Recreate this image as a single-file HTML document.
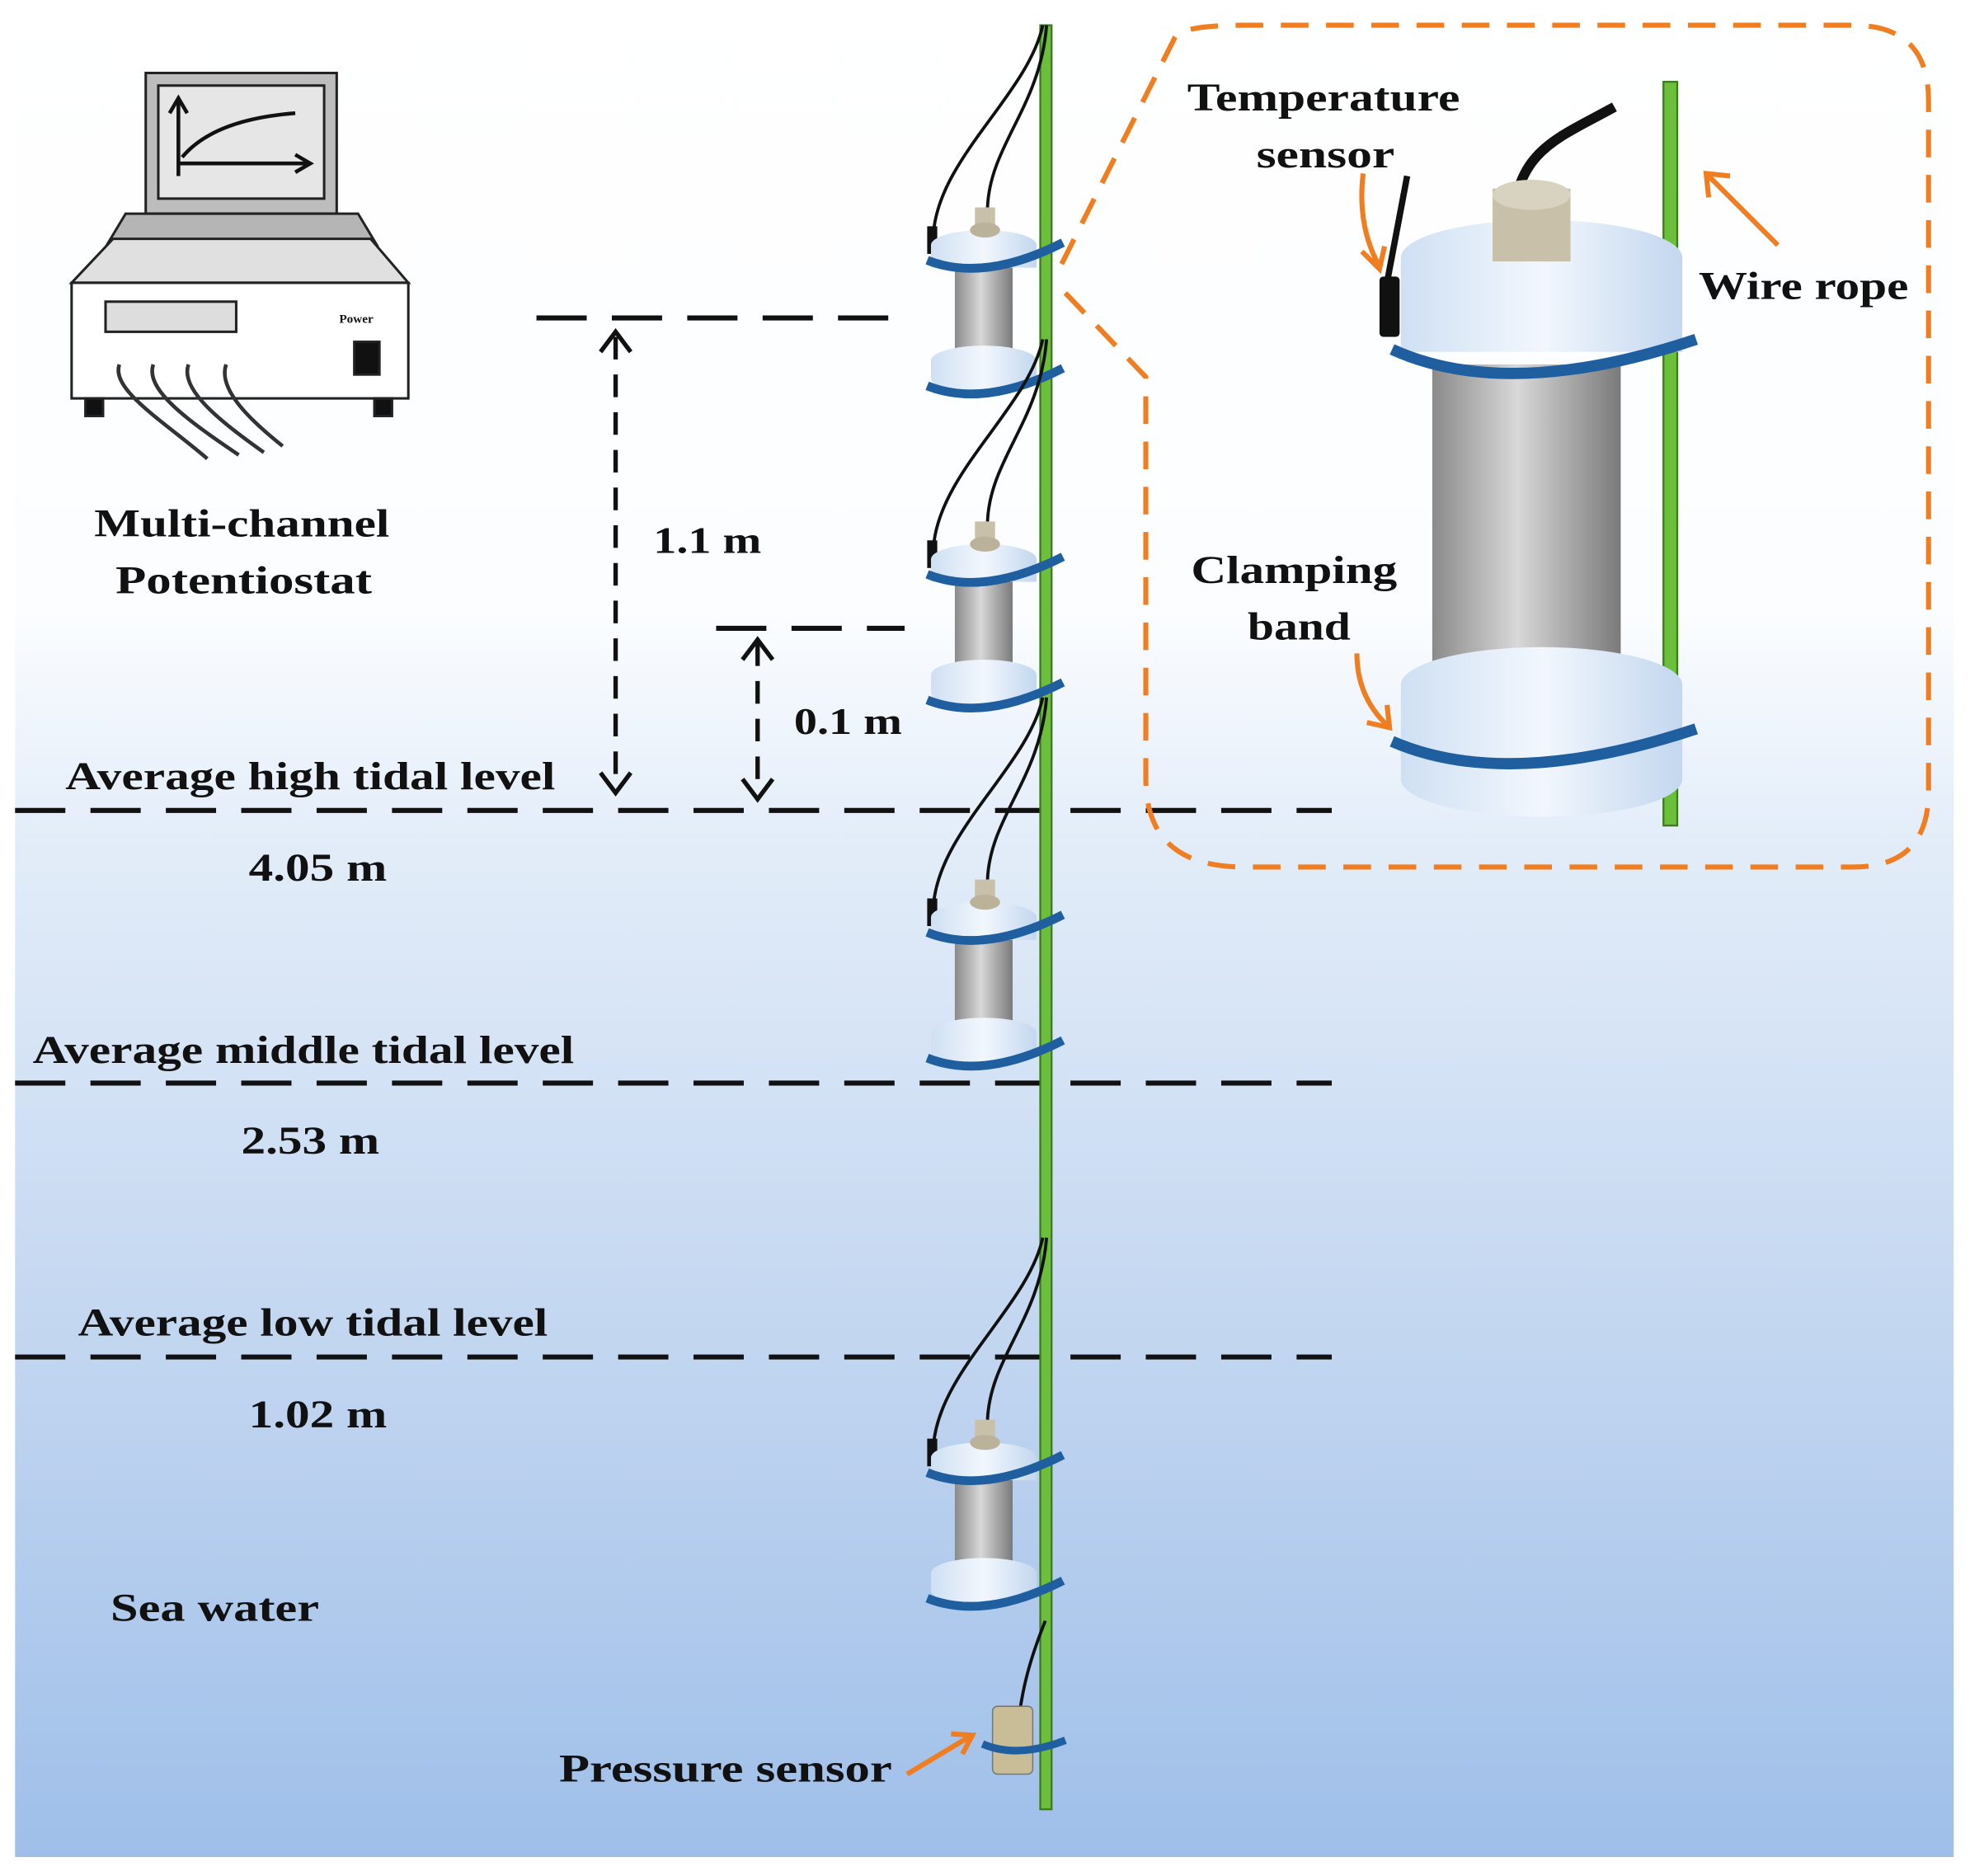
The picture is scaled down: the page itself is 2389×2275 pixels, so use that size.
<!DOCTYPE html>
<html><head><meta charset="utf-8"><style>
html,body{margin:0;padding:0;background:#fff;}
svg{display:block;}
text{font-family:"Liberation Serif",serif;font-weight:bold;fill:#111;}
</style></head><body>
<svg width="2389" height="2275" viewBox="0 0 1568 1493" xmlns="http://www.w3.org/2000/svg">
<defs>
<linearGradient id="sea" x1="0" y1="0" x2="0" y2="1">
<stop offset="0" stop-color="#ffffff"/>
<stop offset="0.33" stop-color="#fbfdff"/>
<stop offset="0.45" stop-color="#e3edf9"/>
<stop offset="0.7" stop-color="#c5d8f1"/>
<stop offset="1" stop-color="#9fbfe9"/>
</linearGradient>
<linearGradient id="cyl" x1="0" y1="0" x2="1" y2="0">
<stop offset="0" stop-color="#8a8a8a"/><stop offset="0.45" stop-color="#d8d8d8"/><stop offset="1" stop-color="#7a7a7a"/>
</linearGradient>
<linearGradient id="cap" x1="0" y1="0" x2="1" y2="0">
<stop offset="0" stop-color="#cfe0f3"/><stop offset="0.5" stop-color="#f2f7fd"/><stop offset="1" stop-color="#c3d7ef"/>
</linearGradient>
<g id="sensor">
<path d="M92,-175 C80,-120 10,-70 5,-10" stroke="#111" stroke-width="2.5" fill="none"/>
<path d="M95,-175 C90,-110 50,-80 48,-30" stroke="#111" stroke-width="2.5" fill="none"/>
<rect x="0" y="-15" width="8" height="22" fill="#111"/>
<ellipse cx="45" cy="0" rx="42" ry="12" fill="url(#cap)"/>
<rect x="3" y="0" width="84" height="18" fill="url(#cap)"/>
<rect x="38" y="-30" width="16" height="22" fill="#c8c0a8"/>
<ellipse cx="46" cy="-12" rx="12" ry="6" fill="#bbb29a"/>
<rect x="22" y="18" width="46" height="70" fill="url(#cyl)"/>
<ellipse cx="45" cy="92" rx="42" ry="12" fill="url(#cap)"/>
<rect x="3" y="92" width="84" height="14" fill="url(#cap)"/>
<ellipse cx="45" cy="106" rx="42" ry="12" fill="url(#cap)"/>
<path d="M0,12 Q45,30 108,-2" stroke="#1f5fa0" stroke-width="7" fill="none"/>
<path d="M0,112 Q45,130 108,98" stroke="#1f5fa0" stroke-width="7" fill="none"/>
</g>
</defs>
<rect x="12" y="0" width="1543" height="1478" fill="url(#sea)"/>

<g stroke="#222" stroke-width="2" fill="#c9c9c9">
<rect x="116" y="58" width="152" height="112" fill="#bdbdbd"/>
<rect x="126" y="68" width="132" height="90" fill="#e6e6e6"/>
<polygon points="100,170 285,170 300,195 85,195" fill="#b5b5b5"/>
<polygon points="57,225 90,190 295,190 325,225" fill="#e0e0e0"/>
<rect x="57" y="225" width="268" height="92" fill="#fff"/>
<rect x="84" y="240" width="104" height="24" fill="#ddd"/>
<rect x="282" y="272" width="20" height="26" fill="#111"/>
<rect x="68" y="317" width="14" height="14" fill="#111"/>
<rect x="298" y="317" width="14" height="14" fill="#111"/>
</g>
<path d="M142,140 V80 M135,90 L142,78 L149,90 M142,130 H245 M235,123 L247,130 L235,137" stroke="#111" stroke-width="3" fill="none"/>
<path d="M145,125 Q170,95 235,90" stroke="#111" stroke-width="3" fill="none"/>
<text x="270" y="257" font-size="10" font-weight="normal">Power</text>
<g stroke="#333" stroke-width="3" fill="none">
<path d="M95,290 C88,310 130,335 165,365"/><path d="M122,290 C115,310 150,335 190,362"/>
<path d="M150,290 C143,310 175,335 210,360"/><path d="M180,290 C173,310 200,335 225,355"/>
</g>
<text x="75" y="427" font-size="31" textLength="235" lengthAdjust="spacingAndGlyphs">Multi-channel</text>
<text x="92" y="472" font-size="31" textLength="204" lengthAdjust="spacingAndGlyphs">Potentiostat</text>

<g stroke="#111" stroke-width="4" stroke-dasharray="40,20" fill="none">
<path d="M12,645 H1060"/><path d="M12,862 H1060"/><path d="M12,1080 H1060"/>
<path d="M427,253 H720"/><path d="M570,500 H720"/>
</g>
<g stroke="#111" stroke-width="3.5" stroke-dasharray="18,12" fill="none">
<path d="M490,268 V625"/><path d="M603,512 V630"/>
</g>
<path d="M478,280 L490,264 L502,280 M478,615 L490,631 L502,615 M591,525 L603,509 L615,525 M591,620 L603,636 L615,620" stroke="#111" stroke-width="3.5" fill="none"/>
<text x="520" y="440" font-size="30" textLength="86" lengthAdjust="spacingAndGlyphs">1.1 m</text>
<text x="632" y="584" font-size="30" textLength="86" lengthAdjust="spacingAndGlyphs">0.1 m</text>
<text x="52" y="628" font-size="31" textLength="390" lengthAdjust="spacingAndGlyphs">Average high tidal level</text>
<text x="198" y="701" font-size="31" textLength="110" lengthAdjust="spacingAndGlyphs">4.05 m</text>
<text x="26" y="846" font-size="31" textLength="431" lengthAdjust="spacingAndGlyphs">Average middle tidal level</text>
<text x="192" y="918" font-size="31" textLength="110" lengthAdjust="spacingAndGlyphs">2.53 m</text>
<text x="62" y="1063" font-size="31" textLength="374" lengthAdjust="spacingAndGlyphs">Average low tidal level</text>
<text x="198" y="1136" font-size="31" textLength="110" lengthAdjust="spacingAndGlyphs">1.02 m</text>
<text x="88" y="1290" font-size="31" textLength="166" lengthAdjust="spacingAndGlyphs">Sea water</text>
<text x="445" y="1418" font-size="31" textLength="265" lengthAdjust="spacingAndGlyphs">Pressure sensor</text>

<rect x="828" y="20" width="9" height="1420" fill="#6cbf3a" stroke="#3c7a22" stroke-width="1.5"/>
<use href="#sensor" x="738" y="195"/>
<use href="#sensor" x="738" y="445"/>
<use href="#sensor" x="738" y="730"/>
<use href="#sensor" x="738" y="1160"/>
<path d="M832,1290 C820,1320 815,1340 812,1360" stroke="#111" stroke-width="2.5" fill="none"/>
<rect x="790" y="1358" width="32" height="54" rx="4" fill="#c9bd98" stroke="#777" stroke-width="1"/>
<path d="M782,1388 Q810,1400 848,1385" stroke="#1f5fa0" stroke-width="6" fill="none"/>
<path d="M722,1412 L772,1382 M757,1380 L774,1381 L766,1396" stroke="#f07d20" stroke-width="4" fill="none"/>

<path d="M845,210 L935,30 Q940,20 990,20 L1475,20 Q1535,20 1535,80 L1535,630 Q1535,690 1475,690 L990,690 Q912,690 912,620 L912,300 L845,230" stroke="#f07d20" stroke-width="4" stroke-dasharray="22,14" fill="none"/>
<rect x="1324" y="65" width="11" height="592" fill="#6cbf3a" stroke="#3c7a22" stroke-width="1.5"/>
<path d="M1205,180 C1205,120 1240,110 1285,85" stroke="#111" stroke-width="8" fill="none"/>
<path d="M1120,140 L1103,230" stroke="#111" stroke-width="5" fill="none"/>
<rect x="1098" y="220" width="16" height="48" rx="3" fill="#111"/>
<ellipse cx="1227" cy="205" rx="112" ry="30" fill="url(#cap)"/>
<rect x="1115" y="205" width="224" height="75" fill="url(#cap)"/>
<rect x="1188" y="150" width="62" height="58" fill="#c8c0a8"/>
<ellipse cx="1219" cy="155" rx="31" ry="12" fill="#d8d2c0"/>
<rect x="1140" y="290" width="150" height="255" fill="url(#cyl)"/>
<ellipse cx="1227" cy="545" rx="112" ry="30" fill="url(#cap)"/>
<rect x="1115" y="545" width="224" height="75" fill="url(#cap)"/>
<ellipse cx="1227" cy="620" rx="112" ry="30" fill="url(#cap)"/>
<path d="M1108,278 Q1200,320 1350,270" stroke="#1f5fa0" stroke-width="9" fill="none"/>
<path d="M1108,590 Q1200,630 1350,580" stroke="#1f5fa0" stroke-width="9" fill="none"/>
<text x="945" y="88" font-size="31" textLength="217" lengthAdjust="spacingAndGlyphs">Temperature</text>
<text x="1000" y="133" font-size="31" textLength="110" lengthAdjust="spacingAndGlyphs">sensor</text>
<text x="1352" y="238" font-size="31" textLength="167" lengthAdjust="spacingAndGlyphs">Wire rope</text>
<text x="948" y="464" font-size="31" textLength="164" lengthAdjust="spacingAndGlyphs">Clamping</text>
<text x="993" y="509" font-size="31" textLength="82" lengthAdjust="spacingAndGlyphs">band</text>
<g stroke="#f07d20" stroke-width="4" fill="none">
<path d="M1085,138 Q1080,180 1098,212 M1084,200 L1098,214 L1102,196"/>
<path d="M1415,195 L1360,140 M1360,157 L1358,138 L1377,140"/>
<path d="M1080,520 Q1080,555 1105,578 M1088,575 L1106,579 L1104,561"/>
</g>
<rect x="0" y="1478" width="1568" height="15" fill="#fff"/>
</svg>
</body></html>
